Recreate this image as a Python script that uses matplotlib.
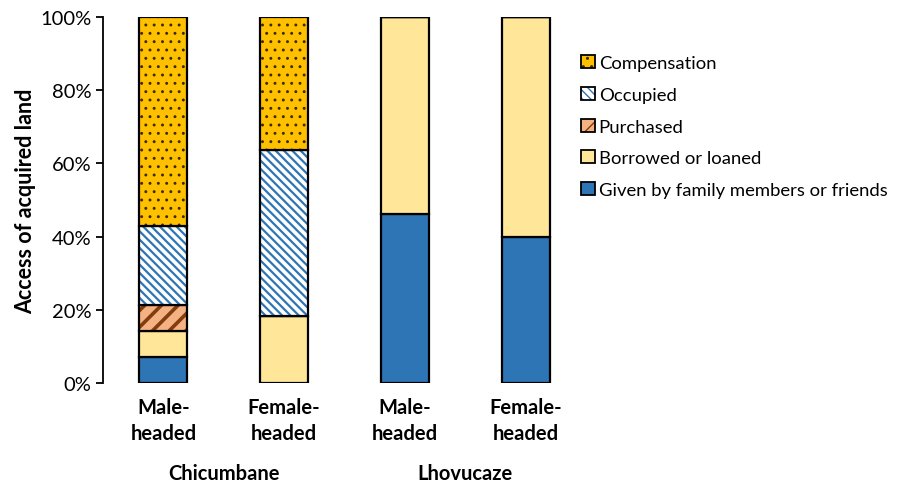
import matplotlib.pyplot as plt
from matplotlib.patches import Patch
from matplotlib.legend_handler import HandlerTuple
import numpy as np

plt.rcParams['font.family'] = ['Lato', 'DejaVu Sans']

bars = ['Male-\nheaded', 'Female-\nheaded', 'Male-\nheaded', 'Female-\nheaded']
regions = ['Chicumbane', 'Lhovucaze']

# percent of acquired land, bottom to top
given = [7.1, 0, 46.2, 40.0]
borrowed = [7.1, 18.2, 53.8, 60.0]
purchased = [7.1, 0, 0, 0]
occupied = [21.5, 45.5, 0, 0]
compensation = [57.2, 36.3, 0, 0]

series = [
    ('Given by family members or friends', given, '#2E75B6', None, None, 1.0),
    ('Borrowed or loaned', borrowed, '#FFE699', None, None, 1.0),
    ('Purchased', purchased, '#F4B183', '//', '#843C0C', 2.6),
    ('Occupied', occupied, 'white', '\\\\\\\\', '#2E75B6', 1.6),
    ('Compensation', compensation, '#FFC000', '..', '#3A2A00', 0.9),
]


def hatched(fc, hatch, hc, hlw, **kw):
    with plt.rc_context({'hatch.linewidth': hlw}):
        p = Patch(facecolor=fc, hatch=hatch, edgecolor=hc if hc else fc, linewidth=0, **kw)
    return p


def main():
    fig = plt.figure(figsize=(9.03, 4.85), dpi=100)
    ax = fig.add_axes([0.114, 0.208, 0.535, 0.755])
    x = np.arange(len(bars))
    width = 0.4
    bottom = np.zeros(len(bars))
    handles = []
    for name, vals, fc, hatch, hc, hlw in series:
        vals = np.array(vals)
        with plt.rc_context({'hatch.linewidth': hlw}):
            bc = ax.bar(x, vals, width, bottom=bottom, color=fc, hatch=hatch,
                        edgecolor=hc if hc else fc, linewidth=0)
        for p in bc:
            if hasattr(p, 'set_hatch_linewidth'):
                p.set_hatch_linewidth(hlw)
        ax.bar(x, vals, width, bottom=bottom, facecolor='none',
               edgecolor='black', linewidth=1.6)
        bottom += vals
        h1 = hatched(fc, hatch, hc, hlw)
        if hasattr(h1, 'set_hatch_linewidth'):
            h1.set_hatch_linewidth(hlw)
        h2 = Patch(facecolor='none', edgecolor='black', linewidth=1.3)
        handles.append(((h1, h2), name))

    handles = handles[::-1]
    ax.legend([h for h, _ in handles], [n for _, n in handles],
              handler_map={tuple: HandlerTuple(ndivide=1)},
              loc='upper left', bbox_to_anchor=(0.975, 0.916), frameon=False,
              fontsize=13.3, handlelength=0.72, handleheight=0.72,
              handletextpad=0.22, labelspacing=0.85, borderaxespad=0.0)

    ax.set_xlim(-0.5, 3.5)
    ax.set_ylim(0, 100)
    ax.set_yticks(range(0, 101, 20))
    ax.set_yticklabels([f'{v}%' for v in range(0, 101, 20)], fontsize=14.5)
    ax.set_xticks(x)
    ax.set_xticklabels(bars, fontsize=14.5, fontweight='bold', linespacing=1.35)
    ax.tick_params(axis='x', length=0, pad=10)
    ax.tick_params(axis='y', length=5, width=1.3, direction='out')
    for s in ['top', 'right', 'bottom']:
        ax.spines[s].set_visible(False)
    ax.spines['left'].set_linewidth(1.3)
    ax.set_ylabel('Access of acquired land', fontsize=15.5, fontweight='bold', labelpad=3)

    for i, r in enumerate(regions):
        ax.text(2 * i + 0.5, -24.5, r, transform=ax.transData, ha='center',
                va='center', fontsize=14.5, fontweight='bold', clip_on=False)

    fig.savefig('out.png', dpi=100)


if __name__ == '__main__':
    main()
